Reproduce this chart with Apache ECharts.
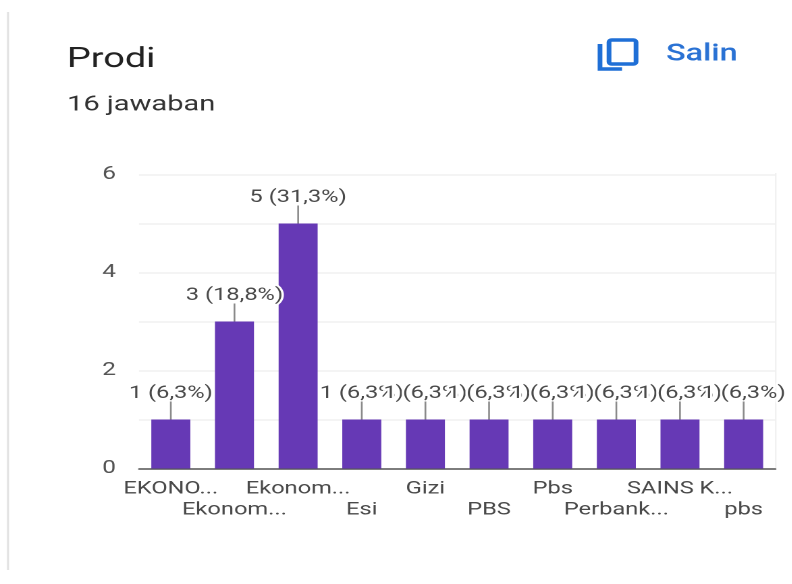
<!DOCTYPE html>
<html>
<head>
<meta charset="utf-8">
<style>
html,body{margin:0;padding:0;background:#fff;overflow:hidden}
#c{height:584px;transform-origin:0 0}
</style>
<script src="https://cdn.jsdelivr.net/npm/echarts@6/dist/echarts.min.js"></script>
</head>
<body>
<div id="c"></div>
<script>
// Survey responses per study programme
const categories = ['EKONO...', 'Ekonom...', 'Ekonom...', 'Esi', 'Gizi', 'PBS', 'Pbs', 'Perbank...', 'SAINS K...', 'pbs'];
const counts = [1, 3, 5, 1, 1, 1, 1, 1, 1, 1];
const shares = ['6,3%', '18,8%', '31,3%', '6,3%', '6,3%', '6,3%', '6,3%', '6,3%', '6,3%', '6,3%'];
const yTicks = [0, 2, 4, 6];
const heading = 'Prodi';
const answerCount = '16 jawaban';
const copyLabel = 'Salin';

const FONT = 'Roboto, sans-serif';
const TEXT_GREY = '#4a4a4a';

// The card is laid out narrow and widened as a whole, text included
const STRETCH = 1.35;
const sx = x => x / STRETCH;
const host = document.getElementById('c');
host.style.width = sx(792) + 'px';
host.style.transform = 'scaleX(' + STRETCH + ')';

const chart = echarts.init(host, null, {renderer: 'canvas', devicePixelRatio: 2});
chart.setOption({
  animation: false,
  backgroundColor: '#fff',
  textStyle: {fontFamily: FONT},
  grid: {left: sx(139), right: sx(17), top: 174.5, bottom: 115.5},
  xAxis: {
    type: 'category',
    data: categories,
    axisTick: {show: false},
    axisLine: {lineStyle: {color: '#555', width: 1.5}},
    axisLabel: {
      interval: 0,
      margin: 10,
      color: TEXT_GREY,
      fontFamily: FONT,
      fontSize: 17.5,
      lineHeight: 21,
      // Alternate labels drop to a second row so they do not collide
      formatter: (v, i) => (i % 2 ? '\n' + v : v)
    }
  },
  yAxis: {
    type: 'value',
    min: 0,
    max: 6,
    interval: 1,
    axisLine: {show: false},
    axisTick: {show: false},
    splitLine: {show: true, lineStyle: {color: '#f1f1f1', width: 1.5}},
    axisLabel: {
      margin: sx(23),
      color: '#555',
      fontFamily: FONT,
      fontSize: 18,
      formatter: v => (yTicks.includes(v) ? String(v) : '')
    }
  },
  series: [
    {
      type: 'bar',
      data: counts,
      barWidth: sx(39),
      itemStyle: {color: '#6639b5'},
      z: 2,
      label: {
        show: true,
        position: 'top',
        distance: 17,
        color: TEXT_GREY,
        fontFamily: FONT,
        fontSize: 17.5,
        textBorderColor: '#fff',
        textBorderWidth: 3.5,
        formatter: p => p.value + ' (' + shares[p.dataIndex] + ')'
      }
    },
    {
      // Short leader from each bar up to its label
      type: 'custom',
      data: counts.map((v, i) => [i, v]),
      z: 3,
      silent: true,
      encode: {x: 0, y: 1},
      renderItem: (params, api) => {
        const p = api.coord([api.value(0), api.value(1)]);
        return {
          type: 'line',
          shape: {x1: p[0], y1: p[1], x2: p[0], y2: p[1] - 18},
          style: {stroke: '#8a8a8a', lineWidth: 1.3}
        };
      }
    }
  ],
  graphic: [
    {type: 'rect', silent: true, shape: {x: sx(7), y: 12, width: sx(2), height: 558}, style: {fill: '#e2e2e2'}},
    {type: 'rect', silent: true, shape: {x: sx(775), y: 173, width: sx(1.5), height: 295}, style: {fill: '#f0f0f0'}},
    {type: 'text', style: {x: sx(67), y: 60, text: heading, font: '400 28px ' + FONT, fill: '#222', verticalAlign: 'middle'}},
    {type: 'text', style: {x: sx(67), y: 105, text: answerCount, font: '400 21.5px ' + FONT, fill: '#333', verticalAlign: 'middle'}},
    {type: 'text', style: {x: sx(666), y: 54.5, text: copyLabel, font: '500 24px ' + FONT, fill: '#2a72d4', verticalAlign: 'middle'}},
    // Copy icon
    {type: 'rect', silent: true, shape: {x: sx(609), y: 40, width: sx(27), height: 24, r: 2}, style: {fill: 'none', stroke: '#1f6fd6', lineWidth: 3.5}},
    {type: 'polyline', silent: true, shape: {points: [[sx(600), 44], [sx(600), 69], [sx(622), 69]]}, style: {fill: 'none', stroke: '#1f6fd6', lineWidth: 3.5}}
  ]
});
</script>
</body>
</html>
